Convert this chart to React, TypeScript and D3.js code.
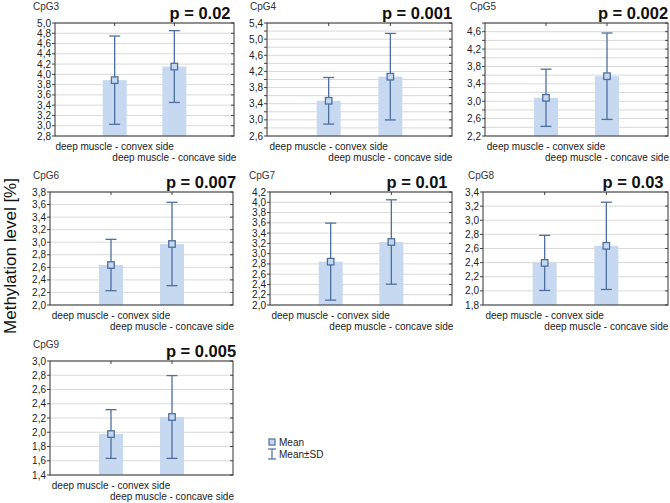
import React from "react";
import * as d3 from "d3";

const panelNames = ["CpG3", "CpG4", "CpG5", "CpG6", "CpG7", "CpG8", "CpG9"];
const pLabels = ["p = 0.02", "p = 0.001", "p = 0.002", "p = 0.007", "p = 0.01", "p = 0.03", "p = 0.005"];
const categories = ["deep muscle - convex side", "deep muscle - concave side"];
const convexMean = [3.887, 3.473, 3.079, 2.637, 2.844, 2.396, 1.975];
const convexSD = [0.859, 0.577, 0.658, 0.409, 0.75, 0.39, 0.342];
const concaveMean = [4.152, 4.07, 3.576, 2.972, 3.227, 2.638, 2.214];
const concaveSD = [0.699, 1.072, 0.994, 0.664, 0.821, 0.618, 0.581];
const yMin = [2.8, 2.6, 2.2, 2.0, 2.0, 1.8, 1.4];
const yMax = [5.0, 5.4, 4.8, 3.8, 4.2, 3.4, 3.0];
const labelStep = [0.2, 0.4, 0.4, 0.2, 0.2, 0.2, 0.2];
const gridStep = 0.2;

// layout (pixel boxes of each plot area)
const boxes = [
  { l: 55, r: 234, t: 23, b: 136, tx: 33, px: 200 },
  { l: 267, r: 452, t: 23, b: 136, tx: 250, px: 417 },
  { l: 485, r: 668, t: 23, b: 136, tx: 470, px: 633 },
  { l: 50, r: 233, t: 192, b: 305, tx: 33, px: 201 },
  { l: 270, r: 452, t: 192, b: 305, tx: 249, px: 417 },
  { l: 483, r: 668, t: 192, b: 305, tx: 468, px: 633 },
  { l: 50, r: 233, t: 361, b: 475, tx: 33, px: 201 },
];

const BAR = "#c6d9f1";
const LINE = "#4e6f9f";
const GRID = "#d9d9d9";
const FONT = "'Liberation Sans', Arial, sans-serif";
const fmt = (v: number) => d3.format(".1f")(v).replace(".", ",");

function Panel({ i }: { i: number }) {
  const b = boxes[i];
  const x = d3.scaleLinear().domain([0, 3]).range([b.l, b.r]);
  const y = d3.scaleLinear().domain([yMin[i], yMax[i]]).range([b.b, b.t]);
  const nGrid = Math.round((yMax[i] - yMin[i]) / gridStep);
  const grid = d3.range(nGrid + 1).map((k) => yMin[i] + k * gridStep);
  const nLab = Math.floor((yMax[i] - yMin[i]) / labelStep[i] + 1e-6);
  const labels = d3.range(nLab + 1).map((k) => yMin[i] + k * labelStep[i]);
  const means = [convexMean[i], concaveMean[i]];
  const sds = [convexSD[i], concaveSD[i]];
  const barW = 24;
  const capW = 11;
  const sq = 6.5;
  return (
    <g>
      {grid.map((g, k) => (
        <line key={"g" + k} x1={b.l} x2={b.r} y1={y(g)} y2={y(g)} stroke={GRID} strokeWidth={1} />
      ))}
      {grid.map((g, k) => (
        <line key={"rt" + k} x1={b.r - 3} x2={b.r} y1={y(g)} y2={y(g)} stroke="#444" strokeWidth={1} />
      ))}
      {grid.map((g, k) => (
        <line key={"lt" + k} x1={b.l - 3} x2={b.l} y1={y(g)} y2={y(g)} stroke="#444" strokeWidth={1} />
      ))}
      {means.map((m, j) => (
        <rect key={"b" + j} x={x(j + 1) - barW / 2} y={y(m)} width={barW} height={y(yMin[i]) - y(m)} fill={BAR} />
      ))}
      {means.map((m, j) => {
        const cx = x(j + 1);
        const hi = y(m + sds[j]);
        const lo = y(m - sds[j]);
        return (
          <g key={"e" + j} stroke={LINE} strokeWidth={1.3} fill="none">
            <line x1={cx} x2={cx} y1={hi} y2={y(m) - sq / 2} />
            <line x1={cx} x2={cx} y1={y(m) + sq / 2} y2={lo} />
            <line x1={cx - capW / 2} x2={cx + capW / 2} y1={hi} y2={hi} />
            <line x1={cx - capW / 2} x2={cx + capW / 2} y1={lo} y2={lo} />
            <rect x={cx - sq / 2} y={y(m) - sq / 2} width={sq} height={sq} fill={BAR} />
          </g>
        );
      })}
      {[1, 2].map((k) => (
        <line key={"tt" + k} x1={x(k)} x2={x(k)} y1={b.t} y2={b.t + 3} stroke="#444" />
      ))}
      <rect x={b.l} y={b.t} width={b.r - b.l} height={b.b - b.t} fill="none" stroke="#333" strokeWidth={1} />
      {labels.map((v, k) => (
        <text key={"yl" + k} x={b.l - 4} y={y(v)} dy="0.35em" textAnchor="end" fontSize={10} fill="#222">
          {fmt(v)}
        </text>
      ))}
      {categories.map((c, j) => (
        <text key={"c" + j} x={x(j + 1)} y={b.b + 14 + j * 11} textAnchor="middle" fontSize={10} fill="#222">
          {c}
        </text>
      ))}
      <text x={b.tx} y={b.t - 13} fontSize={10} fill="#333">
        {panelNames[i]}
      </text>
      <text x={b.px} y={b.t - 4} textAnchor="middle" fontSize={16.5} fontWeight="bold" fill="#111">
        {pLabels[i]}
      </text>
    </g>
  );
}

export default function App() {
  return (
    <svg width={670} height={503} style={{ position: "absolute", left: 0, top: 0, background: "#fff" }} fontFamily={FONT}>
      <rect width={670} height={503} fill="#fff" />
      {panelNames.map((_, i) => (
        <Panel key={i} i={i} />
      ))}
      <text transform="translate(16,256) rotate(-90)" textAnchor="middle" fontSize={17} fill="#111">
        Methylation level [%]
      </text>
      <g>
        <rect x={269} y={439} width={6} height={6} fill={BAR} stroke={LINE} strokeWidth={1.2} />
        <text x={279} y={446} fontSize={10} fill="#222">Mean</text>
        <g stroke={LINE} strokeWidth={1.2}>
          <line x1={272} x2={272} y1={449} y2={459} />
          <line x1={268} x2={276} y1={449} y2={449} />
          <line x1={268} x2={276} y1={459} y2={459} />
        </g>
        <text x={279} y={458} fontSize={10} fill="#222">Mean±SD</text>
      </g>
    </svg>
  );
}
